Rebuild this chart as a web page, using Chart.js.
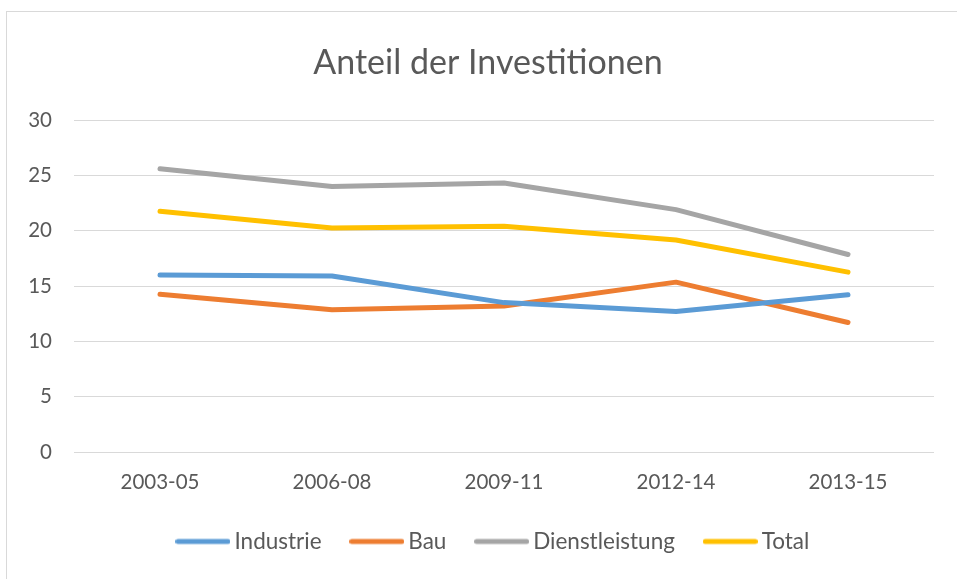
<!DOCTYPE html>
<html>
<head>
<meta charset="utf-8">
<script src="https://cdn.jsdelivr.net/npm/chart.js@4.4.0/dist/chart.umd.min.js"></script>
<style>
  html, body { margin: 0; padding: 0; background: #ffffff; }
  #frame { position: absolute; left: 6px; top: 11px; width: 980px; height: 620px; border: 1px solid #d9d9d9; box-sizing: border-box; }
  #wrap { position: absolute; left: 0; top: 0; width: 957px; height: 579px; }
</style>
</head>
<body>
<div id="frame"></div>
<div id="wrap"><canvas id="c" width="957" height="579"></canvas></div>
<script>
const categories = ["2003-05", "2006-08", "2009-11", "2012-14", "2013-15"];
const industrie = [16.0, 15.9, 13.5, 12.7, 14.2];
const bau = [14.25, 12.85, 13.2, 15.35, 11.7];
const dienstleistung = [25.6, 24.0, 24.3, 21.9, 17.85];
const total = [21.75, 20.25, 20.4, 19.15, 16.25];
const yTicks = [0, 5, 10, 15, 20, 25, 30];

const FONT = "Lato, 'Open Sans', sans-serif";
const TXT = "#595959";

function lineSwatch(color) {
  const cv = document.createElement('canvas');
  cv.width = 55; cv.height = 8;
  const g = cv.getContext('2d');
  g.strokeStyle = color; g.lineWidth = 5; g.lineCap = 'round';
  g.beginPath(); g.moveTo(2.5, 4); g.lineTo(52.5, 4); g.stroke();
  return cv;
}

function ds(label, data, color) {
  return {
    label, data,
    borderColor: color, backgroundColor: color,
    borderWidth: 5, pointRadius: 0, pointHoverRadius: 0,
    tension: 0, borderCapStyle: 'round', borderJoinStyle: 'round',
    pointStyle: 'line', fill: false
  };
}

const shiftBlocks = {
  id: 'shiftBlocks',
  afterLayout(chart) {
    if (chart.legend) { chart.legend.left += 29; chart.legend.right += 29; }
    if (chart.titleBlock) { chart.titleBlock.left += 21; chart.titleBlock.right += 21; }
  }
};

new Chart(document.getElementById('c'), {
  type: 'line',
  plugins: [shiftBlocks],
  data: {
    labels: categories,
    datasets: [
      ds('Industrie', industrie, '#5B9BD5'),
      ds('Bau', bau, '#ED7D31'),
      ds('Dienstleistung', dienstleistung, '#A5A5A5'),
      ds('Total', total, '#FFC000')
    ]
  },
  options: {
    responsive: false,
    animation: false,
    layout: { padding: { left: 0, right: 23, top: 0, bottom: 16.25 } },
    plugins: {
      title: {
        display: true, text: 'Anteil der Investitionen', color: TXT,
        font: { family: FONT, size: 34, weight: 'normal', lineHeight: 1.2 },
        padding: { top: 43, bottom: 36.2 }
      },
      legend: {
        display: true, position: 'bottom',
        labels: {
          usePointStyle: true, pointStyleWidth: 40.5, padding: 35,
          color: TXT, font: { family: FONT, size: 22.5 },
          generateLabels(chart) {
            return Chart.defaults.plugins.legend.labels.generateLabels(chart).map((l, i) => {
              l.pointStyle = lineSwatch(chart.data.datasets[i].borderColor);
              return l;
            });
          }
        }
      },
      tooltip: { enabled: false }
    },
    scales: {
      x: {
        offset: true,
        grid: { display: false, drawTicks: false },
        border: { display: false },
        ticks: { color: TXT, font: { family: FONT, size: 20.5 }, padding: 18, maxRotation: 0 },
        afterFit: s => { s.height = 43.25; }
      },
      y: {
        min: 0, max: 30,
        afterBuildTicks: s => { s.ticks = yTicks.map(v => ({ value: v })); },
        grid: { color: '#D9D9D9', lineWidth: 1, drawTicks: false },
        border: { display: false },
        ticks: { color: TXT, font: { family: FONT, size: 20.5 }, padding: 22 },
        afterFit: s => { s.width = 74; }
      }
    }
  }
});
</script>
</body>
</html>
